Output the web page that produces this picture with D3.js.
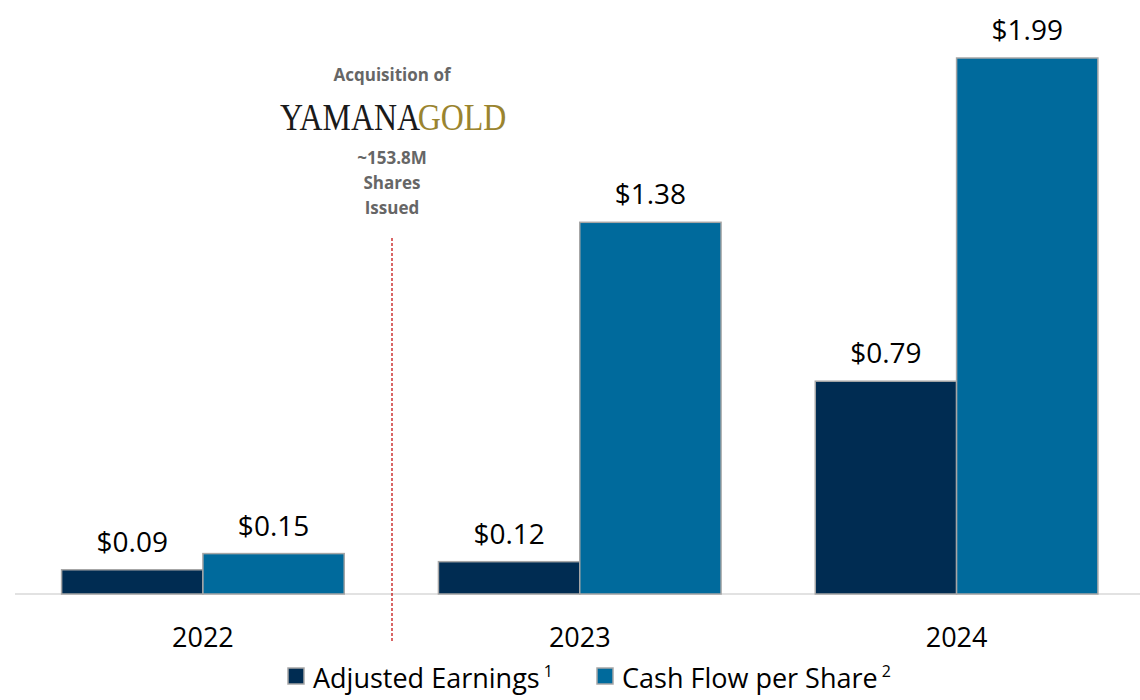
<!DOCTYPE html>
<html>
<head>
<meta charset="utf-8">
<script src="https://cdn.jsdelivr.net/npm/d3@7"></script>
<style>
  body { margin: 0; background: #fff; }
  svg { font-family: "Open Sans", "Noto Sans", sans-serif; }
</style>
</head>
<body>
<div id="chart"></div>
<script>
// data
var years = ["2022", "2023", "2024"];
var seriesNames = ["Adjusted Earnings", "Cash Flow per Share"];
var seriesNotes = ["1", "2"];
var adjustedEarnings = [0.09, 0.12, 0.79];
var cashFlowPerShare = [0.15, 1.38, 1.99];

var width = 1140;
var height = 700;
var baseY = 594;

var colors = ["#002c52", "#006a9c"];

var svg = d3.select("#chart")
  .append("svg")
  .attr("width", width)
  .attr("height", height);

var x0 = d3.scaleBand()
  .domain(years)
  .range([14.5, 1145])
  .paddingInner(0.25)
  .paddingOuter(0.125);

var x1 = d3.scaleBand()
  .domain([0, 1])
  .range([0, x0.bandwidth()]);

var y = d3.scaleLinear()
  .domain([0, 1.99])
  .range([baseY, 58]);

var rows = years.map(function(yr, i) {
  return { year: yr, values: [adjustedEarnings[i], cashFlowPerShare[i]] };
});

// baseline
svg.append("line")
  .attr("x1", 15).attr("x2", 1140)
  .attr("y1", baseY).attr("y2", baseY)
  .attr("stroke", "#d9d9d9")
  .attr("stroke-width", 1.5);

var groups = svg.selectAll("g.year")
  .data(rows)
  .enter()
  .append("g")
  .attr("class", "year")
  .attr("transform", function(d) { return "translate(" + x0(d.year) + ",0)"; });

groups.selectAll("rect")
  .data(function(d) { return d.values; })
  .enter()
  .append("rect")
  .attr("x", function(d, i) { return x1(i); })
  .attr("y", function(d) { return y(d); })
  .attr("width", x1.bandwidth())
  .attr("height", function(d) { return baseY - y(d); })
  .attr("fill", function(d, i) { return colors[i]; })
  .attr("stroke", "#a6a6a6")
  .attr("stroke-width", 1.5);

groups.selectAll("text.val")
  .data(function(d) { return d.values; })
  .enter()
  .append("text")
  .attr("class", "val")
  .attr("x", function(d, i) { return x1(i) + x1.bandwidth() / 2; })
  .attr("y", function(d) { return y(d) - 18; })
  .attr("text-anchor", "middle")
  .attr("font-size", 28)
  .attr("fill", "#000")
  .text(function(d) { return "$" + d3.format(".2f")(d); });

// x axis labels
var xAxis = d3.axisBottom(x0).tickSize(0).tickPadding(0);
var axisG = svg.append("g")
  .attr("transform", "translate(0," + baseY + ")")
  .call(xAxis);
axisG.select(".domain").remove();
axisG.selectAll("text")
  .attr("dy", 0)
  .attr("y", 53)
  .style("font-size", "27px")
  .style("font-family", "'Open Sans', sans-serif")
  .attr("fill", "#000");

// acquisition marker
var divX = 392;
svg.append("line")
  .attr("x1", divX).attr("x2", divX)
  .attr("y1", 238).attr("y2", 641)
  .attr("stroke", "#c00000")
  .attr("stroke-width", 1.2)
  .attr("stroke-dasharray", "3,2");

var note = svg.append("g").attr("text-anchor", "middle");
note.append("text")
  .attr("x", divX).attr("y", 81)
  .attr("font-size", 17).attr("font-weight", "bold").attr("fill", "#666")
  .text("Acquisition of");

// logo: serif wordmark squeezed horizontally
var logo = svg.append("g")
  .attr("transform", "translate(280,130) scale(0.84,1)")
  .style("font-family", "'Liberation Serif', 'DejaVu Serif', serif")
  .attr("font-size", 38);
logo.append("text").attr("x", 0).attr("fill", "#1a1a1a").text("YAMANA");
logo.append("text").attr("x", 164).attr("fill", "#9a842f").text("GOLD");

["~153.8M", "Shares", "Issued"].forEach(function(t, i) {
  note.append("text")
    .attr("x", divX).attr("y", 164 + i * 25)
    .attr("font-size", 17).attr("font-weight", "bold").attr("fill", "#666")
    .text(t);
});

// legend
var legendX = [288, 597];
var legend = svg.selectAll("g.legend")
  .data(seriesNames)
  .enter()
  .append("g")
  .attr("class", "legend")
  .attr("transform", function(d, i) { return "translate(" + legendX[i] + ",668)"; });

legend.append("rect")
  .attr("width", 16).attr("height", 16)
  .attr("fill", function(d, i) { return colors[i]; })
  .attr("stroke", "#a6a6a6")
  .attr("stroke-width", 1.5);

var lt = legend.append("text")
  .attr("x", 25).attr("y", 20)
  .attr("font-size", 27)
  .attr("fill", "#000");
lt.append("tspan").text(function(d) { return d; });
lt.append("tspan")
  .attr("dx", 4).attr("dy", -11)
  .attr("font-size", 16)
  .text(function(d, i) { return seriesNotes[i]; });
</script>
</body>
</html>
